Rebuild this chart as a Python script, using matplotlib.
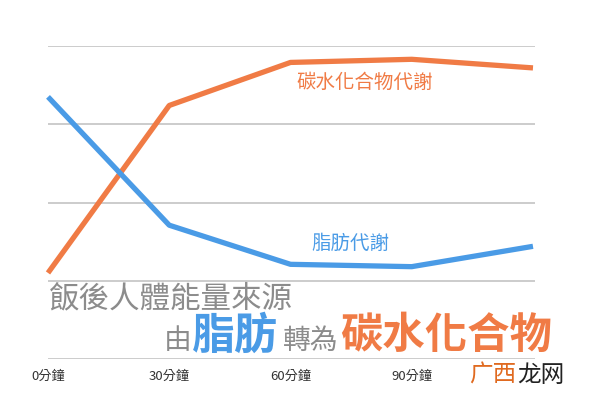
import matplotlib
matplotlib.use("Agg")
import matplotlib.pyplot as plt

plt.rcParams['font.family'] = ['Noto Sans CJK TC', 'DejaVu Sans']

minutes = [0, 30, 60, 90, 120]
carb = [0.1, 2.24, 2.79, 2.83, 2.72]
fat = [2.35, 0.71, 0.21, 0.18, 0.44]
tick_pos = [0, 30, 60, 90]
tick_labels = ['0分鐘', '30分鐘', '60分鐘', '90分鐘']

ORANGE = '#f07b45'
BLUE = '#4a9be6'
GRAY = '#8c8c8c'

fig = plt.figure(figsize=(6, 4.03), dpi=100)
ax = fig.add_axes([48/600, 1-359/403, 487/600, 313/403])
ax.set_xlim(0, 120.5)
ax.set_ylim(-1, 3)
for y in [-1, 0, 1, 2, 3]:
    ax.axhline(y, color='#c4c4c4', lw=1.2, zorder=0)
ax.plot(minutes, carb, color=ORANGE, lw=3.8, solid_capstyle='butt', clip_on=False)
ax.plot(minutes, fat, color=BLUE, lw=3.8, solid_capstyle='butt', clip_on=False)
for s in ax.spines.values():
    s.set_visible(False)
ax.set_yticks([])
ax.set_xticks(tick_pos)
ax.set_xticklabels(tick_labels, fontsize=9.5, color='#333333')
ax.tick_params(axis='x', length=0, pad=8)

def ft(px, py, s, **kw):
    fig.text(px/600, 1-py/403, s, va='center', **kw)

ft(365, 82, '碳水化合物代謝', color=ORANGE, fontsize=14, ha='center')
ft(350, 243, '脂肪代謝', color=BLUE, fontsize=14, ha='center')
ft(49, 299, '飯後人體能量來源', color=GRAY, fontsize=22, ha='left', fontweight='medium')
ft(164, 341, '由', color=GRAY, fontsize=20, ha='left')
ft(192, 336, '脂肪', color=BLUE, fontsize=31, ha='left', fontweight='bold')
ft(283, 341, '轉為', color=GRAY, fontsize=20, ha='left')
ft(340, 336, '碳水化合物', color=ORANGE, fontsize=30.5, ha='left', fontweight='bold')
ft(469, 375, '广西', color='#e06a20', fontsize=17, ha='left')
ft(517, 375, '龙网', color='#222222', fontsize=17, ha='left')

fig.savefig('out.png', dpi=100, facecolor='white')
